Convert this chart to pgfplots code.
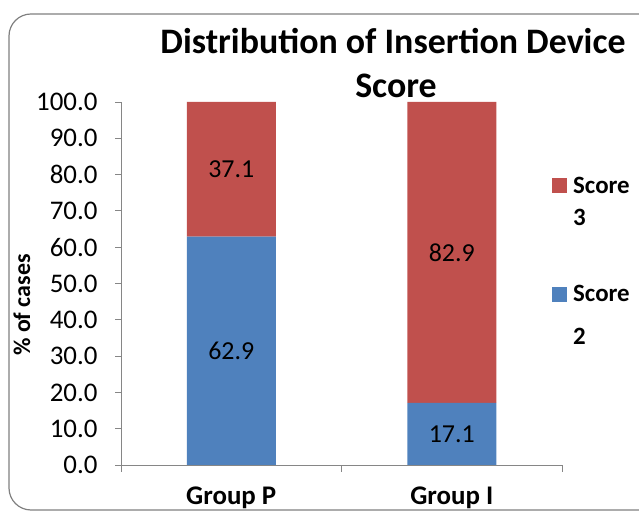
\documentclass[border=0pt]{standalone}
\usepackage{fontspec}
\setmainfont{Carlito}
\usepackage{pgfplots}
\pgfplotsset{compat=1.18}
\definecolor{xblue}{HTML}{4F81BD}
\definecolor{xred}{HTML}{C0504D}
\definecolor{axgray}{HTML}{868686}
\definecolor{bordergray}{HTML}{808080}
\begin{document}
\begin{tikzpicture}[x=1bp,y=1bp]
\useasboundingbox (0,0) rectangle (639,518);
\draw[bordergray, line width=1.2bp, rounded corners=22bp] (9,8) rectangle (670,504);
\begin{axis}[
  at={(121bp,53bp)}, anchor=south west,
  scale only axis, width=441bp, height=363bp,
  xmin=-0.5, xmax=1.5, ymin=0, ymax=100,
  enlargelimits=false,
  ybar stacked, bar width=89bp,
  axis x line*=bottom, axis y line*=left,
  axis line style={axgray, line width=0.8bp, -},
  xtick={0,1}, xticklabels={Group P, Group I},
  xticklabel style={font=\fontsize{27}{30}\selectfont\bfseries, yshift=-12bp},
  major x tick style={draw=none},
  minor xtick={-0.5,0.5,1.5},
  tick align=outside,
  minor tick length=7bp, major tick length=6bp,
  ytick={0,10,...,100},
  yticklabel style={font=\fontsize{27}{30}\selectfont, xshift=-14bp,
    /pgf/number format/.cd, fixed, fixed zerofill, precision=1, assume math mode=true},
  tick style={axgray, line width=0.8bp},
  clip=false,
  visualization depends on={rawy \as \rawy},
  nodes near coords={\pgfmathprintnumber[fixed,fixed zerofill,precision=1,assume math mode=true]{\rawy}},
  every node near coord/.append style={anchor=center, font=\fontsize{26}{30}\selectfont, text=black},
]
\addplot[fill=xblue, draw=none] coordinates {(0,62.9) (1,17.1)};
\addplot[fill=xred, draw=none] coordinates {(0,37.1) (1,82.9)};
\end{axis}
\node[anchor=base, font=\fontsize{36}{40}\selectfont\bfseries] at (393,464) {Distribution of Insertion Device};
\node[anchor=base, font=\fontsize{36}{40}\selectfont\bfseries] at (396,420) {Score};
\node[rotate=90, font=\fontsize{24}{28}\selectfont\bfseries] at (22,213) {\% of cases};
\fill[xred] (552,325) rectangle (567,340);
\node[anchor=base west, inner sep=0pt, font=\fontsize{25}{28}\selectfont\bfseries] at (573,324) {Score};
\node[anchor=base west, inner sep=0pt, font=\fontsize{25}{28}\selectfont\bfseries] at (573,292) {3};
\fill[xblue] (552,216) rectangle (567,231);
\node[anchor=base west, inner sep=0pt, font=\fontsize{25}{28}\selectfont\bfseries] at (573,216) {Score};
\node[anchor=base west, inner sep=0pt, font=\fontsize{25}{28}\selectfont\bfseries] at (573,173) {2};
\end{tikzpicture}
\end{document}
